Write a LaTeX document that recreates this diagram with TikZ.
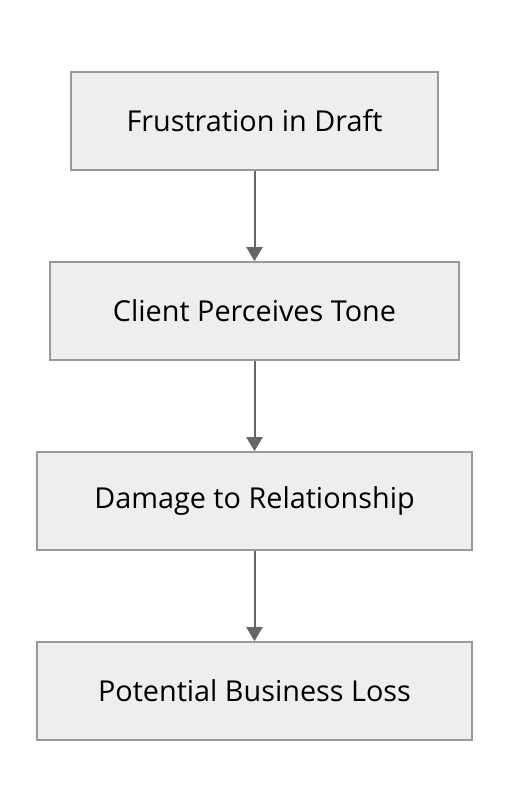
\documentclass[tikz,border=0pt]{standalone}
\usepackage{fontspec}
\setmainfont{Open Sans}
\usetikzlibrary{arrows.meta}
\definecolor{boxfill}{HTML}{EEEEEE}
\definecolor{boxline}{HTML}{999999}
\definecolor{arrowc}{HTML}{666666}
\begin{document}
\begin{tikzpicture}[x=1pt,y=1pt,
  stepbox/.style={draw=boxline, fill=boxfill, line width=1.6pt, inner sep=0pt,
    font=\fontsize{28.8}{34}\selectfont, text=black},
  flow/.style={draw=arrowc, line width=2pt, -{Triangle[length=14pt,width=16pt]}}]
\useasboundingbox (0,0) rectangle (508,812);
\node[stepbox, minimum width=367pt, minimum height=98pt] (a) at (254.5,691) {Frustration in Draft};
\node[stepbox, minimum width=409pt, minimum height=98pt] (b) at (254.5,501) {Client Perceives Tone};
\node[stepbox, minimum width=435pt, minimum height=98pt] (c) at (254.5,311) {Damage to Relationship};
\node[stepbox, minimum width=435pt, minimum height=98pt] (d) at (254.5,121) {Potential Business Loss};
\draw[flow] (a) -- (b);
\draw[flow] (b) -- (c);
\draw[flow] (c) -- (d);
\end{tikzpicture}
\end{document}
